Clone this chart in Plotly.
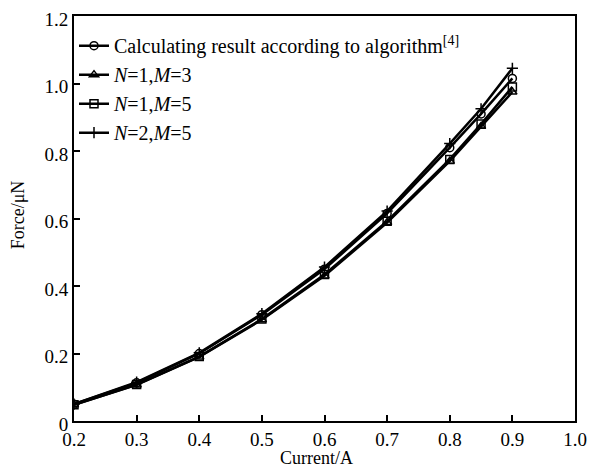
import plotly.graph_objects as go

current = [0.2, 0.3, 0.4, 0.5, 0.6, 0.7, 0.8, 0.85, 0.9]
force_alg = [0.050, 0.113, 0.200, 0.315, 0.450, 0.615, 0.810, 0.910, 1.015]
force_n1m3 = [0.048, 0.107, 0.190, 0.300, 0.430, 0.588, 0.770, 0.873, 0.975]
force_n1m5 = [0.048, 0.108, 0.191, 0.302, 0.434, 0.592, 0.775, 0.880, 0.990]
force_n2m5 = [0.050, 0.115, 0.202, 0.318, 0.456, 0.622, 0.822, 0.925, 1.045]

names = ["Calculating result according to algorithm<sup>[4]</sup>",
         "<i>N</i>=1,<i>M</i>=3", "<i>N</i>=1,<i>M</i>=5", "<i>N</i>=2,<i>M</i>=5"]
series = [force_alg, force_n1m3, force_n1m5, force_n2m5]
symbols = ["circle-open", "triangle-up-open", "square-open", "cross-thin-open"]

xticks = [0.2, 0.3, 0.4, 0.5, 0.6, 0.7, 0.8, 0.9, 1.0]
yticks = [0, 0.2, 0.4, 0.6, 0.8, 1.0, 1.2]
yticktext = ["0", "0.2", "0.4", "0.6", "0.8", "1.0", "1.2"]

fig = go.Figure()
for name, ys, sym in zip(names, series, symbols):
    fig.add_trace(go.Scatter(
        x=current, y=ys, mode="lines+markers", name=name,
        line=dict(color="black", width=2.5),
        marker=dict(symbol=sym, size=8, color="black",
                    line=dict(color="black", width=1.5)),
    ))

font = "Liberation Serif, Times New Roman, serif"
# page has an 8px body margin, so the figure is 588x463 and margins are offset
fig.update_layout(
    width=588, height=463,
    margin=dict(l=66, r=21, t=8, b=50),
    paper_bgcolor="white", plot_bgcolor="white",
    font=dict(family=font, color="black", size=19),
    showlegend=True,
    legend=dict(x=0.0, y=0.975, xanchor="left", yanchor="top",
                bgcolor="rgba(0,0,0,0)", font=dict(size=20, family=font),
                tracegroupgap=0, itemwidth=30),
    xaxis=dict(range=[0.2, 1.0], tickvals=xticks,
               ticktext=[f"{v:.1f}" for v in xticks],
               ticks="inside", ticklen=6, tickwidth=1.5, tickcolor="black",
               ticklabeloverflow="allow",
               showline=True, linecolor="black", linewidth=2, mirror=True,
               showgrid=False, zeroline=False, automargin=False),
    yaxis=dict(range=[0, 1.2], tickvals=yticks, ticktext=yticktext,
               ticks="inside", ticklen=6, tickwidth=1.5, tickcolor="black",
               ticklabeloverflow="allow", ticklabelshift=3,
               showline=True, linecolor="black", linewidth=2, mirror=True,
               showgrid=False, zeroline=False, automargin=False),
    annotations=[
        dict(text="Current/A", xref="paper", yref="paper", x=0.485, y=-0.062,
             xanchor="center", yanchor="top", showarrow=False,
             font=dict(size=18, family=font)),
        dict(text="Force/μN", xref="paper", yref="paper", x=-0.11, y=0.51,
             xanchor="center", yanchor="middle", textangle=-90, showarrow=False,
             font=dict(size=18, family=font)),
    ],
)

fig.write_html("out.html")
